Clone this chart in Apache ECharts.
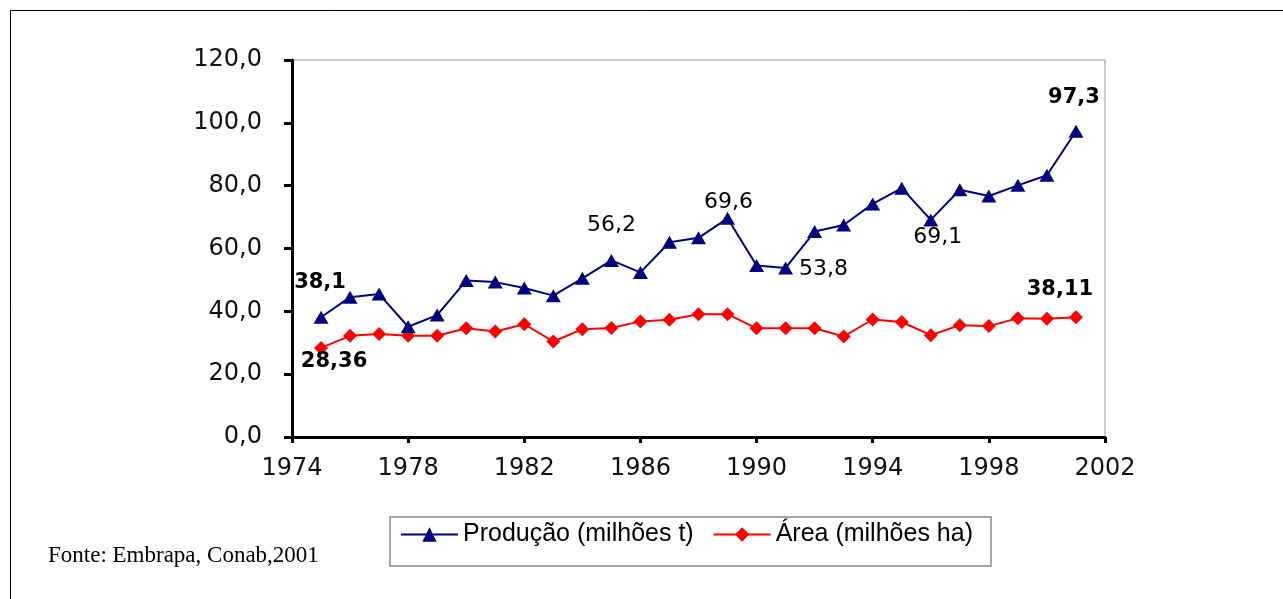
<!DOCTYPE html>
<html>
<head>
<meta charset="utf-8">
<title>Produção e Área</title>
<script src="https://cdn.jsdelivr.net/npm/echarts@6/dist/echarts.min.js"></script>
<style>
    html, body { margin: 0; padding: 0; background: #fff; }
    #chart { width: 1283px; height: 599px; }
</style>
</head>
<body>
<div id="chart"></div>
<script>
    // dados
    var anos = [1975, 1976, 1977, 1978, 1979, 1980, 1981, 1982, 1983, 1984, 1985, 1986, 1987, 1988,
        1989, 1990, 1991, 1992, 1993, 1994, 1995, 1996, 1997, 1998, 1999, 2000, 2001];
    var producao = [38.1, 44.5, 45.5, 35.1, 38.8, 49.8, 49.3, 47.4, 45.0, 50.5, 56.2, 52.4, 62.0, 63.4,
        69.6, 54.6, 53.8, 65.4, 67.5, 74.2, 79.2, 69.1, 78.7, 76.7, 80.1, 83.3, 97.3];
    var area = [28.36, 32.2, 32.8, 32.2, 32.2, 34.6, 33.6, 35.9, 30.4, 34.3, 34.7, 36.8, 37.3, 39.1,
        39.1, 34.6, 34.6, 34.6, 32.0, 37.4, 36.6, 32.4, 35.6, 35.3, 37.8, 37.6, 38.11];
    var yTicks = [0, 20, 40, 60, 80, 100, 120];
    var xTicks = [1974, 1978, 1982, 1986, 1990, 1994, 1998, 2002];
    var nomes = ["Produção (milhões t)", "Área (milhões ha)"];
    var fonte = "Fonte: Embrapa, Conab,2001";

    // pontos com rótulo (ano)
    var rotulosProducao = [1975, 1985, 1989, 1991, 1996, 2001];
    var rotulosArea = [1975, 2001];

    // deslocamento de cada rótulo em relação ao ponto
    var estiloRotulo = {
        p1975: { offset: [-1, -35], bold: true },
        p1985: { offset: [0, -35] },
        p1989: { offset: [1, -16] },
        p1991: { offset: [38, 1] },
        p1996: { offset: [7, 17] },
        p2001: { offset: [-2, -34], bold: true },
        a1975: { offset: [13, 14], bold: true },
        a2001: { offset: [-16, -28], bold: true }
    };

    function virgula(v, casas) {
        return v.toFixed(casas).replace(".", ",");
    }

    function montarDados(valores, rotulos, prefixo) {
        return anos.map(function (ano, i) {
            var item = { value: [ano, valores[i]] };
            if (rotulos.indexOf(ano) >= 0) {
                var est = estiloRotulo[prefixo + ano];
                var txt = String(valores[i]).replace(".", ",");
                item.label = {
                    show: true,
                    position: "inside",
                    offset: est.offset,
                    formatter: txt,
                    color: "#000",
                    fontFamily: "DejaVu Sans",
                    fontSize: est.bold ? 21 : 22,
                    fontWeight: est.bold ? "bold" : "normal"
                };
            }
            return item;
        });
    }

    var chart = echarts.init(document.getElementById("chart"));

    var option = {
        animation: false,
        backgroundColor: "#fff",
        graphic: [
            {
                type: "rect",
                shape: { x: 10.5, y: 10.5, width: 1300, height: 620 },
                style: { fill: "none", stroke: "#000", lineWidth: 1 },
                silent: true
            },
            {
                type: "text",
                left: 48,
                top: 544,
                style: {
                    text: fonte,
                    fill: "#000",
                    font: "23px 'Liberation Serif'"
                }
            }
        ],
        legend: {
            left: 390,
            top: 517,
            orient: "horizontal",
            data: nomes,
            itemWidth: 57,
            itemHeight: 18,
            itemGap: 19,
            padding: [5, 18, 19, 10],
            borderColor: "#888",
            borderWidth: 1.5,
            textStyle: {
                color: "#000",
                fontFamily: "Liberation Sans",
                fontSize: 25
            }
        },
        grid: {
            left: 292,
            right: 178,
            top: 60,
            bottom: 162,
            show: true,
            borderColor: "#999",
            borderWidth: 1,
            backgroundColor: "#fff"
        },
        xAxis: {
            type: "value",
            min: xTicks[0],
            max: xTicks[xTicks.length - 1],
            interval: 4,
            axisLine: { show: true, lineStyle: { color: "#000", width: 3 } },
            axisTick: { show: true, length: 6, lineStyle: { color: "#000", width: 3 } },
            splitLine: { show: false },
            axisLabel: {
                margin: 20,
                color: "#111",
                fontFamily: "DejaVu Sans",
                fontSize: 24,
                formatter: function (v) { return String(v); }
            }
        },
        yAxis: {
            type: "value",
            min: yTicks[0],
            max: yTicks[yTicks.length - 1],
            interval: 20,
            axisLine: { show: true, lineStyle: { color: "#000", width: 3 } },
            axisTick: { show: true, length: 8, lineStyle: { color: "#000", width: 3 } },
            splitLine: { show: false },
            axisLabel: {
                margin: 30,
                color: "#111",
                fontFamily: "DejaVu Sans",
                fontSize: 24,
                formatter: function (v) { return virgula(v, 1); }
            }
        },
        series: [
            {
                name: nomes[0],
                type: "line",
                data: montarDados(producao, rotulosProducao, "p"),
                symbol: "triangle",
                symbolSize: [15, 13],
                showAllSymbol: true,
                itemStyle: { color: "#000080" },
                lineStyle: { color: "#000080", width: 2 },
                z: 3
            },
            {
                name: nomes[1],
                type: "line",
                data: montarDados(area, rotulosArea, "a"),
                symbol: "diamond",
                symbolSize: [14, 14],
                showAllSymbol: true,
                itemStyle: { color: "#ff0000" },
                lineStyle: { color: "#ff0000", width: 2 },
                z: 2
            }
        ]
    };

    chart.setOption(option);
</script>
</body>
</html>
